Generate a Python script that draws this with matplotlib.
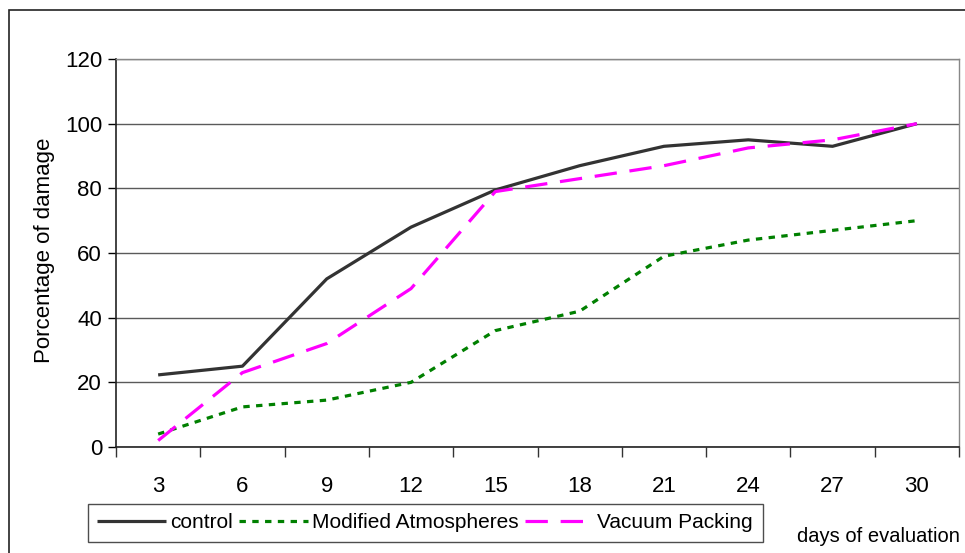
import numpy as np
import matplotlib.pyplot as plt
from matplotlib.patches import Rectangle

plt.rcParams['font.family'] = ['Liberation Sans', 'DejaVu Sans']

days = ["3", "6", "9", "12", "15", "18", "21", "24", "27", "30"]
control = [22.3, 25, 52, 68, 79.5, 87, 93, 95, 93, 100]
modified_atm = [4, 12.4, 14.5, 20, 36, 42, 59, 64, 67, 70]
vacuum = [2, 23, 32, 49, 79, 83, 87, 92.5, 95, 100]

W, H = 965, 553
fig = plt.figure(figsize=(W / 100, H / 100), dpi=100)
ax = fig.add_axes([116 / W, 1 - 447 / H, (959 - 116) / W, (447 - 59) / H])

x = np.arange(len(days))
ax.plot(x, control, color="#333333", lw=2.3, label="control", solid_capstyle="butt")
ax.plot(x, modified_atm, color="#008000", lw=2.3, dashes=(2, 2),
        label="Modified Atmospheres")
ax.plot(x, vacuum, color="#ff00ff", lw=2.3, dashes=(7, 4), label="Vacuum Packing")

ax.set_xlim(-0.5, len(days) - 0.5)
ax.set_ylim(0, 120)
ax.set_yticks(np.arange(0, 121, 20))
ax.yaxis.grid(True, color="#5a5a5a", lw=1)
ax.set_axisbelow(True)

fs = 16
ax.set_xticks(x)
ax.set_xticklabels(days)
ax.set_xticks(np.arange(-0.5, len(days), 1), minor=True)
ax.tick_params(axis="x", which="major", length=0, pad=21, labelsize=fs)
ax.tick_params(axis="x", which="minor", length=7, width=1, color="#333333")
ax.tick_params(axis="y", length=6, width=1, labelsize=fs, pad=4)

for side in ("left", "bottom"):
    ax.spines[side].set_color("#222222")
    ax.spines[side].set_linewidth(1.2)
for side in ("top", "right"):
    ax.spines[side].set_color("#888888")
    ax.spines[side].set_linewidth(1)

fig.text(45 / W, 1 - 250 / H, "Porcentage of damage", rotation=90,
         ha="center", va="center", fontsize=16)
fig.text(960 / W, 1 - 537 / H, "days of evaluation", ha="right", va="center",
         fontsize=14.5)

leg = fig.legend(loc="center", bbox_to_anchor=(425 / W, 1 - 523 / H), ncol=3,
                 fontsize=15, frameon=True, fancybox=False, edgecolor="#222222",
                 handlelength=3.3, handletextpad=0.2, columnspacing=0.3,
                 borderpad=0.45, borderaxespad=0)
leg.get_frame().set_linewidth(1)

# chart outer border
fig.patches.append(Rectangle((9 / W, -0.1), 1.2, 1 - 10 / H + 0.1,
                             transform=fig.transFigure, fill=False,
                             edgecolor="#222222", lw=1.2))

fig.savefig("out.png", dpi=100)
